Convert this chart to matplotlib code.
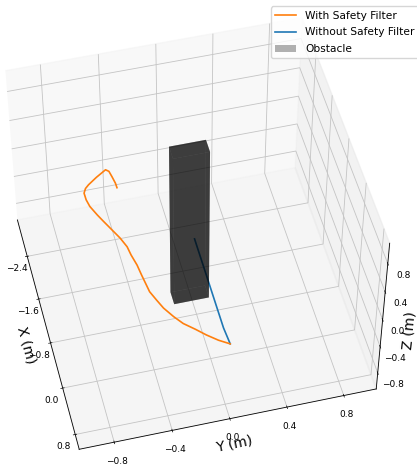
import numpy as np
import matplotlib
matplotlib.use("Agg")
import matplotlib.pyplot as plt
from mpl_toolkits.mplot3d.art3d import Poly3DCollection
from matplotlib.patches import Patch

plt.rc('grid', linewidth=0.6, color='#c4c4c4')
plt.rc('axes', linewidth=0.6)

# trayectorias
x_with = [-0.02, -0.12, -0.25, -0.38, -0.52, -0.67, -0.85, -1.01, -1.18, -1.34, -1.5, -1.69, -1.89, -2.05, -2.23,
          -2.41, -2.59, -2.73, -2.85, -2.9, -2.93, -2.91, -2.88, -2.89, -2.91, -2.87, -2.76, -2.73, -2.73]
y_with = [0.14, 0.07, 0.0, -0.06, -0.13, -0.18, -0.23, -0.26, -0.29, -0.3, -0.31, -0.32, -0.34, -0.35, -0.38,
          -0.42, -0.46, -0.49, -0.53, -0.55, -0.56, -0.55, -0.53, -0.47, -0.4, -0.38, -0.37, -0.35, -0.34]
z_with = [-0.9, -0.9, -0.9, -0.9, -0.9, -0.9, -0.9, -0.9, -0.9, -0.9, -0.9, -0.9, -0.9, -0.9, -0.9,
          -0.9, -0.9, -0.9, -0.85, -0.78, -0.7, -0.62, -0.55, -0.47, -0.4, -0.4, -0.4, -0.48, -0.55]
x_without = [-0.02, -0.31, -0.64, -1.15, -1.51, -1.96]
y_without = [0.14, 0.13, 0.13, 0.13, 0.13, 0.13]
z_without = [-0.9, -0.9, -0.9, -0.9, -0.9, -0.9]

obs_x = [-1.27, -1.05]
obs_y = [-0.13, 0.12]
obs_z = [-1.05, 1.05]

fig = plt.figure(figsize=(4.17, 4.68), dpi=100)
ax = fig.add_axes([-0.125, -0.05, 1.14, 1.086], projection='3d', computed_zorder=False)

ax.plot(x_without, y_without, z_without, color='tab:blue', lw=1.2, label='Without Safety Filter', zorder=1)

x0, x1 = obs_x
y0, y1 = obs_y
z0, z1 = obs_z
caras = [
    [(x0, y0, z0), (x1, y0, z0), (x1, y1, z0), (x0, y1, z0)],
    [(x0, y0, z1), (x1, y0, z1), (x1, y1, z1), (x0, y1, z1)],
    [(x0, y0, z0), (x1, y0, z0), (x1, y0, z1), (x0, y0, z1)],
    [(x0, y1, z0), (x1, y1, z0), (x1, y1, z1), (x0, y1, z1)],
    [(x0, y0, z0), (x0, y1, z0), (x0, y1, z1), (x0, y0, z1)],
    [(x1, y0, z0), (x1, y1, z0), (x1, y1, z1), (x1, y0, z1)],
]
caja = Poly3DCollection(caras, facecolor=(0, 0, 0, 0.5), edgecolor='none', linewidths=0, zorder=2)
ax.add_collection3d(caja)
ax.plot(x_with, y_with, z_with, color='tab:orange', lw=1.2, label='With Safety Filter', zorder=3)

ax.set_xlim(-3.1, 1.05)
ax.set_ylim(-1.04, 1.03)
ax.set_zlim(-1.05, 1.08)
ax.set_xticks([-2.4, -1.6, -0.8, 0.0, 0.8])
ax.set_yticks([-0.8, -0.4, 0.0, 0.4, 0.8])
ax.set_zticks([-0.8, -0.4, 0.0, 0.4, 0.8])
ax.tick_params(labelsize=6.5, pad=-1)
for eje in [ax.xaxis, ax.yaxis, ax.zaxis]:
    eje._axinfo['tick']['inward_factor'] = 0.08
    eje._axinfo['tick']['outward_factor'] = 0.06
    eje._axinfo['tick']['linewidth'] = {True: 0.5, False: 0.4}
ax.set_xlabel('X (m)', fontsize=10, labelpad=-8)
ax.set_ylabel('Y (m)', fontsize=10, labelpad=-9)
ax.set_zlabel('Z (m)', fontsize=10, labelpad=-9)
ax.view_init(elev=50, azim=-14)

h, l = ax.get_legend_handles_labels()
h = [h[1], h[0], Patch(facecolor='black', alpha=0.3)]
l = [l[1], l[0], 'Obstacle']
fig.legend(h, l, loc='upper right', bbox_to_anchor=(1.012, 0.993), fontsize=7.7, borderaxespad=0.3, labelspacing=0.62)

fig.savefig('out.png', dpi=100)
